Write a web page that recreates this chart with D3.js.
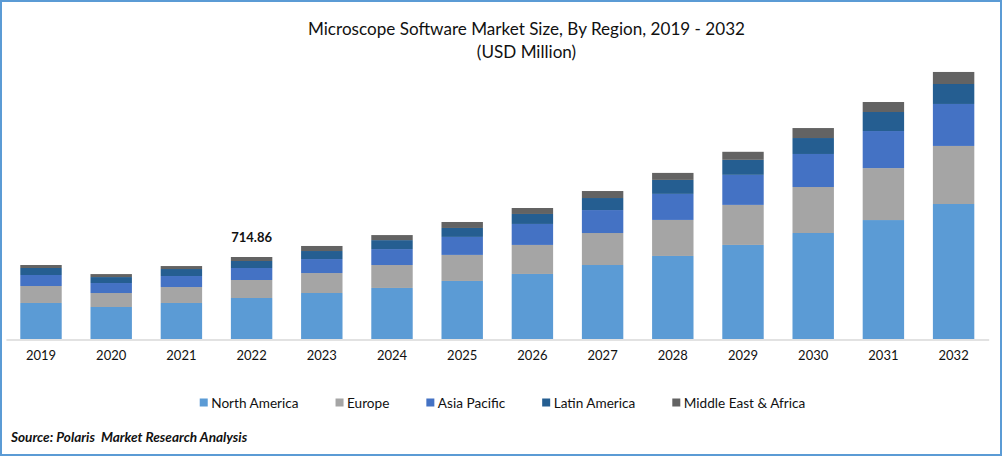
<!DOCTYPE html>
<html>
<head>
<meta charset="utf-8">
<script src="https://cdn.jsdelivr.net/npm/d3@7"></script>
<style>
  html, body { margin: 0; padding: 0; background: #fff; }
  svg { display: block; font-family: Lato, "Open Sans", sans-serif; }
  text { fill: #111; }
  .domain { stroke: #d9d9d9; stroke-width: 1.5; }
</style>
</head>
<body>
<svg id="chart" width="1002" height="456"></svg>
<script>
const years = ["2019", "2020", "2021", "2022", "2023", "2024", "2025", "2026", "2027", "2028", "2029", "2030", "2031", "2032"];
const regions = ["North America", "Europe", "Asia Pacific", "Latin America", "Middle East & Africa"];
const colors = ["#5b9bd5", "#a5a5a5", "#4472c4", "#255e91", "#636363"];

// USD million (only the 2022 total is printed)
const northAmerica = [314, 279, 314, 357.4, 401, 445, 506, 567, 645, 724, 820, 924, 1037, 1177];
const europe = [148, 122, 139, 157, 174, 200, 227, 253, 279, 314, 349, 401, 453, 506];
const asiaPacific = [96, 87, 96, 104.6, 122, 139, 157, 183, 200, 227, 262, 288, 323, 366];
const latinAmerica = [61, 52, 61, 61, 70, 78, 78, 87, 105, 122, 131, 139, 166, 174];
const middleEastAfrica = [26, 26, 26, 34.86, 44, 44, 52, 52, 61, 61, 70, 87, 87, 105];

const seriesValues = [northAmerica, europe, asiaPacific, latinAmerica, middleEastAfrica];
const labelYear = "2022";
const labelText = "714.86";

const svg = d3.select("#chart");
const width = 1002, height = 456;

const x = d3.scaleBand().domain(years).range([5.9, 988.7]).paddingInner(0.41).paddingOuter(0.205);
const y = d3.scaleLinear().domain([0, 2400]).range([339, 63.7]);

// table the stack layout wants
const rows = years.map((year, i) => {
  const row = { year };
  regions.forEach((r, j) => { row[r] = seriesValues[j][i]; });
  return row;
});
const stacked = d3.stack().keys(regions)(rows);

svg.selectAll("g.series")
  .data(stacked)
  .join("g")
    .attr("class", "series")
    .attr("fill", (_d, i) => colors[i])
  .selectAll("rect")
  .data(d => d)
  .join("rect")
    .attr("x", d => x(d.data.year))
    .attr("width", x.bandwidth())
    .attr("y", d => y(d[1]))
    .attr("height", d => y(d[0]) - y(d[1]));

const axis = svg.append("g")
  .attr("transform", `translate(0,${y(0) + 0.5})`)
  .call(d3.axisBottom(x).tickSize(0).tickPadding(11));
axis.selectAll("text").style("font-size", "13px").style("font-family", "Lato");

// data label above the 2022 column
const total2022 = d3.sum(seriesValues, s => s[years.indexOf(labelYear)]);
svg.append("text")
  .attr("x", x(labelYear) + x.bandwidth() / 2)
  .attr("y", y(total2022) - 15)
  .attr("text-anchor", "middle")
  .style("font-size", "13px")
  .style("font-weight", "700")
  .text(labelText);

// title
svg.append("text")
  .attr("x", 526.5).attr("y", 35)
  .attr("text-anchor", "middle")
  .style("font-size", "17.1px")
  .text("Microscope Software Market Size, By Region, 2019 - 2032");
svg.append("text")
  .attr("x", 526.5).attr("y", 58)
  .attr("text-anchor", "middle")
  .style("font-size", "17.1px")
  .text("(USD Million)");

// legend, laid out from the measured text widths
const legend = svg.append("g");
let legendX = 0;
regions.forEach((r, i) => {
  const item = legend.append("g").attr("transform", `translate(${legendX},0)`);
  item.append("rect").attr("y", -4).attr("width", 8).attr("height", 8).attr("fill", colors[i]);
  const label = item.append("text")
    .attr("x", 11.5).attr("y", 5)
    .style("font-size", "13.6px")
    .text(r);
  legendX += 11.5 + label.node().getComputedTextLength() + 37;
});
legendX -= 37;
legend.attr("transform", `translate(${502.5 - legendX / 2},402.5)`);

// source line
svg.append("text")
  .attr("x", 11).attr("y", 442)
  .style("font-size", "13.6px")
  .style("font-weight", "700")
  .style("font-style", "italic")
  .text("Source: Polaris\u00a0 Market Research Analysis");

// outer frame
svg.append("rect")
  .attr("x", 1).attr("y", 1)
  .attr("width", width - 2).attr("height", height - 2)
  .attr("fill", "none")
  .attr("stroke", "#5b9bd5")
  .attr("stroke-width", 2);
</script>
</body>
</html>
